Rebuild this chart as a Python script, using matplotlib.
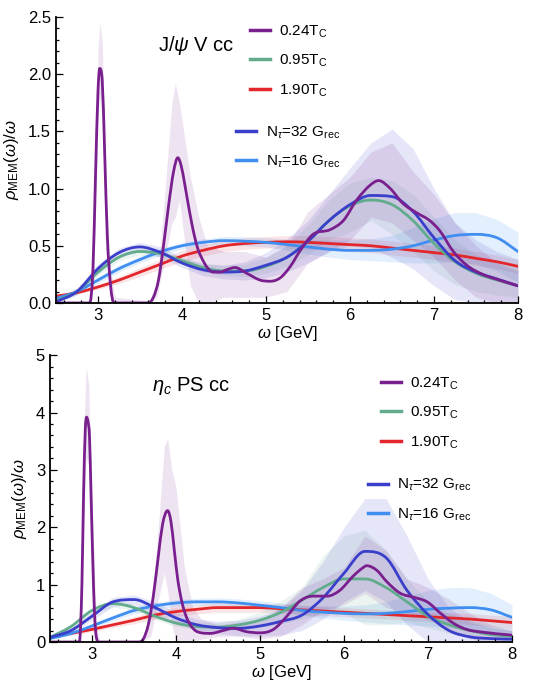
"""
MEM spectral functions, J/psi (V) and eta_c (PS) channels
"""

import numpy as np
import matplotlib
matplotlib.use("Agg")
from matplotlib import pyplot as plt
from matplotlib.lines import Line2D
from matplotlib.path import Path
from matplotlib.patches import PathPatch
from matplotlib.ticker import MultipleLocator, FormatStrFormatter

plt.rcParams["font.family"] = ["Liberation Sans", "DejaVu Sans"]
plt.rcParams["mathtext.fontset"] = "custom"
plt.rcParams["mathtext.rm"] = "Liberation Sans"
plt.rcParams["mathtext.it"] = "Liberation Sans:italic"
plt.rcParams["mathtext.bf"] = "Liberation Sans:bold"

# common omega grid [GeV] for the broad curves
omega = np.arange(2.5, 8.01, 0.25)

# ---------------- J/psi, vector channel ----------------
jp_024_w = [2.5, 2.8, 2.9, 2.94, 2.97, 3.0, 3.02, 3.05, 3.08, 3.11, 3.15, 3.19, 3.3,
            3.6, 3.66, 3.72, 3.78, 3.84, 3.9, 3.95, 3.99, 4.03, 4.07, 4.11, 4.15,
            4.19, 4.23, 4.3, 4.37, 4.45, 4.53, 4.63, 4.77, 4.93, 5.05, 5.17, 5.29,
            5.4, 5.56, 5.76, 5.92, 6.08, 6.24, 6.34, 6.48, 6.63, 6.79, 6.95, 7.07,
            7.23, 7.39, 7.58, 7.78, 8.0]
jp_024 = [0, 0, 0, 0.3, 1.1, 1.85, 2.05, 1.95, 1.3, 0.6, 0.15, 0, 0,
          0, 0.05, 0.2, 0.5, 0.85, 1.15, 1.27, 1.2, 1.05, 0.88, 0.72, 0.58,
          0.47, 0.4, 0.31, 0.27, 0.27, 0.29, 0.31, 0.26, 0.2, 0.19, 0.22, 0.32,
          0.45, 0.6, 0.64, 0.72, 0.9, 1.03, 1.07, 1.0, 0.87, 0.79, 0.72, 0.63,
          0.45, 0.33, 0.25, 0.2, 0.15]
jp_024_bw = [2.5, 2.9, 2.95, 3.0, 3.02, 3.05, 3.1, 3.15, 3.2, 3.6, 3.7, 3.8, 3.88,
             3.92, 3.97, 4.02, 4.1, 4.2, 4.3, 4.5, 4.75, 5.0, 5.25, 5.5, 5.75, 6.0,
             6.25, 6.5, 6.75, 7.0, 7.25, 7.5, 7.75, 8.0]
jp_024_lo = [0, 0, 0.2, 1.6, 1.8, 1.6, 0.4, 0.05, 0, 0, 0.05, 0.4, 0.7,
             0.75, 0.9, 0.6, 0.15, 0, 0, 0.05, 0.05, 0.05, 0.1, 0.35, 0.45, 0.55,
             0.75, 0.7, 0.55, 0.4, 0.2, 0.05, 0, 0]
jp_024_hi = [0, 0, 0.45, 2.2, 2.45, 2.3, 0.9, 0.3, 0.05, 0.02, 0.15, 1.0, 1.75,
             1.92, 1.75, 1.5, 1.1, 0.75, 0.5, 0.45, 0.45, 0.4, 0.5, 0.8, 0.95, 1.1,
             1.32, 1.4, 1.15, 0.95, 0.7, 0.5, 0.35, 0.28]

jp_095 = [0.02, 0.10, 0.27, 0.40, 0.45, 0.43, 0.37, 0.31, 0.28, 0.28, 0.32, 0.40,
          0.54, 0.72, 0.85, 0.90, 0.86, 0.72, 0.52, 0.36, 0.26, 0.20, 0.15]
jp_095_lo = [0.00, 0.07, 0.24, 0.37, 0.42, 0.40, 0.34, 0.27, 0.24, 0.23, 0.26, 0.32,
             0.42, 0.55, 0.62, 0.72, 0.60, 0.45, 0.28, 0.16, 0.10, 0.07, 0.05]
jp_095_hi = [0.04, 0.13, 0.30, 0.43, 0.48, 0.46, 0.40, 0.35, 0.33, 0.34, 0.40, 0.50,
             0.68, 0.90, 1.05, 1.10, 1.07, 0.95, 0.75, 0.55, 0.42, 0.35, 0.30]

jp_190 = [0.06, 0.09, 0.14, 0.20, 0.27, 0.34, 0.41, 0.46, 0.50, 0.52, 0.53, 0.535,
          0.53, 0.52, 0.51, 0.50, 0.48, 0.46, 0.44, 0.42, 0.39, 0.36, 0.32]
jp_190_lo = [0.05, 0.08, 0.12, 0.17, 0.23, 0.30, 0.36, 0.41, 0.45, 0.47, 0.48, 0.48,
             0.47, 0.46, 0.45, 0.44, 0.42, 0.40, 0.38, 0.36, 0.33, 0.30, 0.26]
jp_190_hi = [0.07, 0.10, 0.16, 0.23, 0.31, 0.38, 0.46, 0.51, 0.55, 0.57, 0.58, 0.59,
             0.59, 0.58, 0.57, 0.56, 0.54, 0.52, 0.50, 0.48, 0.45, 0.42, 0.38]

jp_nt32 = [0.01, 0.10, 0.30, 0.44, 0.49, 0.44, 0.35, 0.29, 0.27, 0.28, 0.33, 0.40,
           0.54, 0.72, 0.86, 0.94, 0.93, 0.80, 0.57, 0.37, 0.27, 0.21, 0.15]
jp_nt32_lo = [0.00, 0.07, 0.26, 0.40, 0.45, 0.40, 0.31, 0.24, 0.21, 0.20, 0.22, 0.27,
              0.35, 0.45, 0.50, 0.48, 0.40, 0.30, 0.15, 0.03, 0.00, 0.00, 0.00]
jp_nt32_hi = [0.03, 0.13, 0.34, 0.48, 0.53, 0.49, 0.40, 0.34, 0.33, 0.36, 0.44, 0.56,
              0.72, 0.95, 1.18, 1.40, 1.52, 1.35, 1.00, 0.70, 0.55, 0.45, 0.38]

jp_nt16 = [0.04, 0.10, 0.20, 0.30, 0.38, 0.45, 0.50, 0.53, 0.545, 0.54, 0.53, 0.51,
           0.49, 0.47, 0.46, 0.46, 0.47, 0.50, 0.55, 0.59, 0.60, 0.57, 0.45]
jp_nt16_lo = [0.03, 0.08, 0.17, 0.27, 0.35, 0.42, 0.47, 0.50, 0.51, 0.50, 0.49, 0.46,
              0.43, 0.40, 0.38, 0.37, 0.36, 0.35, 0.35, 0.36, 0.34, 0.28, 0.18]
jp_nt16_hi = [0.05, 0.12, 0.23, 0.33, 0.41, 0.48, 0.53, 0.56, 0.58, 0.58, 0.57, 0.56,
              0.55, 0.55, 0.55, 0.56, 0.59, 0.66, 0.74, 0.79, 0.79, 0.73, 0.62]

# ---------------- eta_c, pseudoscalar channel ----------------
ec_024_w = [2.5, 2.85, 2.88, 2.9, 2.92, 2.935, 2.955, 2.97, 2.99, 3.01, 3.03, 3.05,
            3.08, 3.55, 3.61, 3.67, 3.73, 3.79, 3.84, 3.9, 3.94, 3.98, 4.02, 4.07,
            4.12, 4.17, 4.23, 4.3, 4.41, 4.56, 4.68, 4.84, 5.0, 5.16, 5.32, 5.48,
            5.64, 5.8, 5.95, 6.11, 6.23, 6.27, 6.39, 6.51, 6.67, 6.83, 6.99, 7.15,
            7.31, 7.46, 7.66, 8.0]
ec_024 = [0, 0, 1.0, 2.6, 3.7, 3.92, 3.82, 3.6, 2.5, 1.4, 0.5, 0.1,
          0, 0, 0.05, 0.3, 0.8, 1.5, 2.05, 2.29, 2.1, 1.6, 1.1, 0.7,
          0.45, 0.3, 0.2, 0.16, 0.15, 0.2, 0.24, 0.18, 0.16, 0.22, 0.45, 0.72,
          0.8, 0.8, 0.9, 1.15, 1.3, 1.33, 1.25, 1.05, 0.85, 0.78, 0.7, 0.5,
          0.32, 0.22, 0.17, 0.12]
ec_024_bw = [2.5, 2.85, 2.9, 2.93, 2.96, 3.0, 3.05, 3.1, 3.6, 3.7, 3.8, 3.86, 3.9,
             3.95, 4.0, 4.05, 4.1, 4.2, 4.3, 4.5, 4.75, 5.0, 5.25, 5.5, 5.75, 6.0,
             6.25, 6.5, 6.75, 7.0, 7.25, 7.5, 7.75, 8.0]
ec_024_lo = [0, 0, 2.0, 3.2, 3.1, 1.0, 0, 0, 0, 0.1, 0.8, 1.2, 0.9,
             0.3, 0, 0, 0, 0, 0.05, 0.1, 0.1, 0.05, 0.1, 0.3, 0.55, 0.65,
             0.85, 0.6, 0.5, 0.4, 0.2, 0.05, 0, 0]
ec_024_hi = [0, 0, 3.5, 4.8, 4.5, 2.5, 0.3, 0, 0, 0.5, 2.2, 3.4, 3.55,
             3.0, 2.7, 2.0, 1.3, 0.6, 0.4, 0.3, 0.35, 0.35, 0.6, 0.95, 1.1, 1.3,
             1.85, 1.6, 1.1, 0.95, 0.75, 0.5, 0.3, 0.2]

ec_095 = [0.08, 0.27, 0.55, 0.67, 0.60, 0.45, 0.33, 0.27, 0.26, 0.30, 0.38, 0.52,
          0.73, 0.95, 1.10, 1.10, 0.95, 0.70, 0.45, 0.30, 0.20, 0.13, 0.10]
ec_095_lo = [0.06, 0.23, 0.49, 0.61, 0.54, 0.39, 0.27, 0.21, 0.19, 0.21, 0.25, 0.32,
             0.40, 0.50, 0.50, 0.30, 0.30, 0.35, 0.25, 0.15, 0.08, 0.04, 0.02]
ec_095_hi = [0.10, 0.31, 0.61, 0.73, 0.66, 0.51, 0.39, 0.34, 0.34, 0.40, 0.52, 0.72,
             0.95, 1.50, 1.85, 1.95, 1.60, 1.10, 0.70, 0.50, 0.38, 0.28, 0.22]

ec_190 = [0.08, 0.15, 0.22, 0.30, 0.38, 0.47, 0.53, 0.57, 0.60, 0.60, 0.60, 0.58,
          0.56, 0.54, 0.52, 0.50, 0.48, 0.46, 0.44, 0.42, 0.40, 0.37, 0.34]
ec_190_lo = [0.06, 0.12, 0.18, 0.25, 0.32, 0.40, 0.45, 0.49, 0.52, 0.52, 0.52, 0.50,
             0.48, 0.46, 0.44, 0.42, 0.40, 0.38, 0.36, 0.33, 0.30, 0.27, 0.23]
ec_190_hi = [0.10, 0.18, 0.26, 0.35, 0.44, 0.54, 0.61, 0.65, 0.68, 0.68, 0.68, 0.66,
             0.64, 0.62, 0.60, 0.58, 0.56, 0.54, 0.52, 0.51, 0.50, 0.47, 0.45]

ec_nt32 = [0.08, 0.20, 0.45, 0.70, 0.74, 0.60, 0.42, 0.30, 0.25, 0.24, 0.28, 0.36,
           0.47, 0.77, 1.20, 1.58, 1.47, 0.90, 0.48, 0.20, 0.09, 0.06, 0.05]
ec_nt32_lo = [0.06, 0.16, 0.38, 0.62, 0.66, 0.50, 0.33, 0.20, 0.14, 0.11, 0.10, 0.12,
              0.20, 0.40, 0.70, 0.90, 0.70, 0.30, 0.00, 0.00, 0.00, 0.00, 0.00]
ec_nt32_hi = [0.10, 0.24, 0.52, 0.78, 0.82, 0.70, 0.52, 0.40, 0.36, 0.38, 0.45, 0.58,
              0.90, 1.40, 2.00, 2.50, 2.50, 1.85, 1.10, 0.60, 0.35, 0.25, 0.20]

ec_nt16 = [0.06, 0.15, 0.28, 0.42, 0.55, 0.63, 0.68, 0.70, 0.70, 0.68, 0.64, 0.60,
           0.55, 0.52, 0.50, 0.49, 0.50, 0.53, 0.57, 0.59, 0.60, 0.56, 0.43]
ec_nt16_lo = [0.05, 0.12, 0.24, 0.37, 0.49, 0.57, 0.62, 0.64, 0.64, 0.62, 0.58, 0.53,
              0.47, 0.42, 0.38, 0.35, 0.32, 0.30, 0.28, 0.25, 0.22, 0.18, 0.12]
ec_nt16_hi = [0.07, 0.18, 0.32, 0.47, 0.61, 0.69, 0.74, 0.76, 0.77, 0.75, 0.72, 0.68,
              0.64, 0.63, 0.63, 0.65, 0.70, 0.80, 0.90, 0.95, 0.95, 0.85, 0.65]

# colours
c_024 = "#7a1f8e"
c_095 = "#62ab8c"
c_190 = "#e2262b"
c_nt32 = "#3a3fcb"
c_nt16 = "#3f8ef0"

labels_T = ["0.24T$_\\mathrm{C}$", "0.95T$_\\mathrm{C}$", "1.90T$_\\mathrm{C}$"]
labels_N = ["N$_\\tau$=32 G$_\\mathrm{rec}$", "N$_\\tau$=16 G$_\\mathrm{rec}$"]


def smooth_line(ax, x, y, color, lw=2.0):
    # draw the points as a monotone cubic bezier path (no overshoot)
    x = np.asarray(x, float)
    y = np.asarray(y, float)
    d = np.diff(y) / np.diff(x)
    m = np.zeros_like(y)
    m[0], m[-1] = d[0], d[-1]
    for i in range(1, len(y) - 1):
        if d[i - 1] * d[i] > 0:
            m[i] = np.sign(d[i]) * min(0.5 * abs(d[i - 1] + d[i]),
                                       3 * min(abs(d[i - 1]), abs(d[i])))
    verts = [(x[0], y[0])]
    codes = [Path.MOVETO]
    for i in range(len(x) - 1):
        h = x[i + 1] - x[i]
        verts += [(x[i] + h / 3, y[i] + m[i] * h / 3),
                  (x[i + 1] - h / 3, y[i + 1] - m[i + 1] * h / 3),
                  (x[i + 1], y[i + 1])]
        codes += [Path.CURVE4] * 3
    ax.add_patch(PathPatch(Path(verts, codes), fill=False, edgecolor=color,
                           lw=lw, capstyle="round", joinstyle="round"))


def panel(ax, d, title, ymax, ystep, yminor, yfmt, leg1, leg2):
    # error bands first
    ax.fill_between(omega, d["190"][1], d["190"][2], color=c_190, alpha=0.12, lw=0)
    ax.fill_between(omega, d["nt16"][1], d["nt16"][2], color=c_nt16, alpha=0.14, lw=0)
    ax.fill_between(omega, d["095"][1], d["095"][2], color=c_095, alpha=0.12, lw=0)
    ax.fill_between(omega, d["nt32"][1], d["nt32"][2], color=c_nt32, alpha=0.13, lw=0)
    ax.fill_between(d["024b"][0], d["024b"][1], d["024b"][2], color=c_024, alpha=0.12, lw=0)

    smooth_line(ax, omega, d["190"][0], c_190)
    smooth_line(ax, omega, d["nt16"][0], c_nt16)
    smooth_line(ax, omega, d["095"][0], c_095)
    smooth_line(ax, omega, d["nt32"][0], c_nt32)
    smooth_line(ax, d["024"][0], d["024"][1], c_024)

    ax.set_xlim(2.5, 8)
    ax.set_ylim(0, ymax)
    ax.spines["top"].set_visible(False)
    ax.spines["right"].set_visible(False)
    ax.spines["left"].set_linewidth(1.3)
    ax.spines["bottom"].set_linewidth(1.3)
    ax.xaxis.set_major_locator(MultipleLocator(1))
    ax.xaxis.set_minor_locator(MultipleLocator(0.2))
    ax.yaxis.set_major_locator(MultipleLocator(ystep))
    ax.yaxis.set_minor_locator(MultipleLocator(yminor))
    ax.yaxis.set_major_formatter(FormatStrFormatter(yfmt))
    ax.tick_params(which="both", direction="in", labelsize=12, width=0.9)
    ax.tick_params(which="major", length=5)
    ax.tick_params(which="minor", length=2.5)

    ax.set_xlabel("$\\omega$ [GeV]", fontsize=12, labelpad=1)
    ax.set_ylabel("$\\rho_\\mathrm{MEM}(\\omega)/\\omega$", fontsize=12, labelpad=5)
    ax.text(0.22, title[1], title[0], transform=ax.transAxes, fontsize=14.5,
            va="center", ha="left")

    hT = [Line2D([], [], color=c, lw=2.5) for c in (c_024, c_095, c_190)]
    hN = [Line2D([], [], color=c, lw=2.5) for c in (c_nt32, c_nt16)]
    kw = dict(frameon=False, fontsize=11, handlelength=1.3, handletextpad=0.62,
              borderpad=0, borderaxespad=0, loc="upper left")
    l1 = ax.legend(hT, labels_T, bbox_to_anchor=leg1, labelspacing=0.86, **kw)
    ax.add_artist(l1)
    ax.legend(hN, labels_N, bbox_to_anchor=leg2, labelspacing=0.86, **kw)


fig = plt.figure(figsize=(5.41, 6.83), dpi=100)
ax1 = fig.add_axes([0.1035, 0.5564, 0.854, 0.4187])
ax2 = fig.add_axes([0.0924, 0.060, 0.854, 0.420])

jp = {"024": (jp_024_w, jp_024), "024b": (jp_024_bw, jp_024_lo, jp_024_hi),
      "095": (jp_095, jp_095_lo, jp_095_hi), "190": (jp_190, jp_190_lo, jp_190_hi),
      "nt32": (jp_nt32, jp_nt32_lo, jp_nt32_hi), "nt16": (jp_nt16, jp_nt16_lo, jp_nt16_hi)}
ec = {"024": (ec_024_w, ec_024), "024b": (ec_024_bw, ec_024_lo, ec_024_hi),
      "095": (ec_095, ec_095_lo, ec_095_hi), "190": (ec_190, ec_190_lo, ec_190_hi),
      "nt32": (ec_nt32, ec_nt32_lo, ec_nt32_hi), "nt16": (ec_nt16, ec_nt16_lo, ec_nt16_hi)}

panel(ax1, jp, ("J/$\\psi$ V cc", 0.899), 2.5, 0.5, 0.1, "%.1f",
      (0.42, 0.978), (0.39, 0.625))
panel(ax2, ec, ("$\\eta_c$ PS cc", 0.892), 5, 1, 0.2, "%d",
      (0.716, 0.93), (0.688, 0.575))

fig.savefig("out.png", dpi=100)
plt.close()
